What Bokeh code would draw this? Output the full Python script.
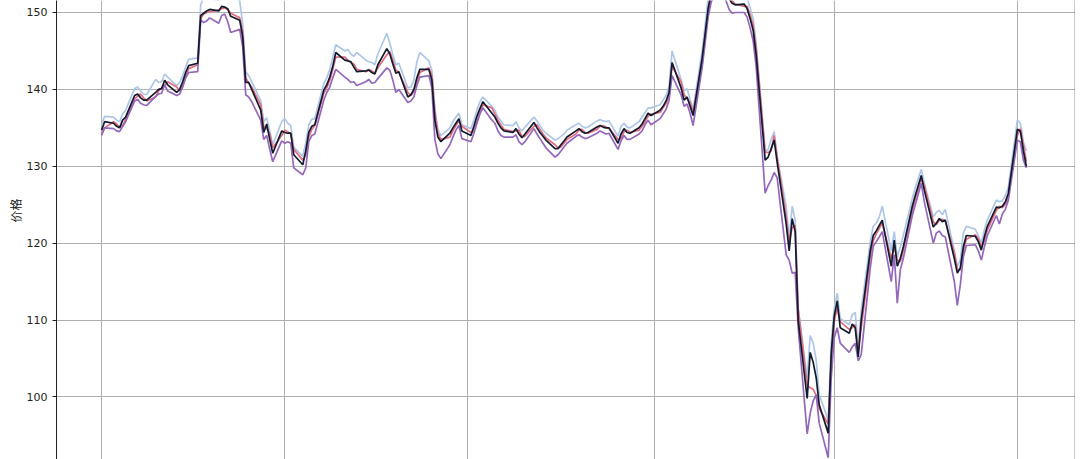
from datetime import datetime
import pandas as pd
from bokeh.plotting import figure
from bokeh.models import (ColumnDataSource, Range1d, FixedTicker, LinearAxis,
                          Grid, Title)
from bokeh.embed import file_html
from bokeh.resources import INLINE

# ---------------- data ----------------
close = [
    134.7, 135.8,
    135.6, 135.2, 135.0, 136.0, 136.4,
    139.2, 139.4, 138.9, 138.6, 138.6,
    139.6, 140.0, 140.1, 141.2, 140.6,
    139.6, 140.0, 141.0, 142.2, 143.1,
    143.4, 149.6, 149.9, 150.2, 150.4,
    150.2, 150.8, 150.7, 150.5, 149.5,
    149.0, 146.8, 140.9, 140.9, 140.0,
    137.3, 134.4, 135.5, 133.5, 131.7,
    134.6, 134.4, 134.3, 134.3, 131.5,
    130.2, 132.0, 134.4, 135.2, 135.4,
    139.9, 140.6, 141.6, 143.0, 144.8,
    143.8, 143.7, 143.6, 142.9, 142.3,
    142.4, 142.5, 142.2, 142.0, 143.2,
    145.3, 144.6, 143.3, 142.1, 142.3,
    139.0, 139.3, 140.0, 141.5, 142.6,
    142.6, 141.2, 136.0, 133.8, 133.2,
    134.3, 135.0, 135.6, 136.2, 134.6,
    134.0, 135.2, 136.5, 137.5, 138.4,
    136.9, 136.4, 135.6, 135.0, 134.6,
    134.4, 134.9, 134.2, 133.7, 134.2,
    135.7, 135.0, 134.4, 133.9, 133.4,
    132.3, 132.3, 132.8, 133.3, 133.8,
    134.6, 134.9, 134.5, 134.3, 134.4,
    135.1, 135.3, 135.1, 135.0, 135.0,
    133.0, 134.2, 134.9, 134.4, 134.3,
    135.0, 135.5, 136.2, 136.9, 136.6,
    137.3, 137.8, 138.5, 139.6, 143.5,
    140.2, 138.6, 139.0, 137.8, 136.6,
    144.0, 147.2, 150.5, 152.5, 153.5,
    153.8, 152.8, 151.8, 151.2, 151.0,
    151.1, 150.5, 149.2, 147.7, 144.5,
    130.8, 131.2, 132.3, 133.4, 130.5,
    122.5, 119.0, 123.2, 121.5, 110.0,
    99.8, 105.8, 104.5, 102.5, 99.0,
    95.3, 105.6, 110.5, 112.5, 109.0,
    108.3, 109.5, 109.0, 105.2, 110.0,
    119.0, 121.0, 121.6, 122.3, 123.0,
    117.0, 120.4, 117.0, 118.0, 119.5,
    124.8, 126.2, 127.5, 128.8, 126.9,
    122.1, 122.6, 123.2, 122.8, 123.0,
    118.0, 116.1, 116.8, 119.5, 121.0,
    120.9, 120.2, 119.1, 120.8, 122.2,
    124.7, 124.6, 124.8, 125.4, 126.5,
    134.8, 134.6, 132.0, 130.0,
]

open_ = [
    134.2, 135.0,
    135.8, 135.5, 135.1, 135.3, 136.1,
    138.8, 139.1, 139.4, 138.9, 138.5,
    139.0, 139.8, 140.2, 140.5, 141.0,
    140.3, 139.8, 140.4, 141.6, 142.7,
    143.2, 149.2, 149.8, 150.0, 150.1,
    150.3, 150.5, 150.6, 150.4, 149.9,
    149.3, 147.5, 141.5, 140.8, 140.3,
    138.0, 135.2, 134.9, 134.2, 132.4,
    134.0, 134.7, 134.5, 134.2, 132.2,
    130.8, 131.5, 133.8, 134.8, 135.3,
    139.5, 140.2, 141.2, 142.6, 144.2,
    144.2, 143.8, 143.5, 143.3, 142.6,
    142.3, 142.6, 142.4, 142.1, 142.8,
    144.5, 144.9, 143.8, 142.5, 142.2,
    139.6, 139.2, 139.7, 141.0, 142.2,
    142.8, 141.8, 137.0, 134.3, 133.5,
    133.8, 134.6, 135.3, 135.9, 135.2,
    134.4, 134.6, 135.8, 137.0, 138.0,
    137.6, 136.8, 136.0, 135.4, 134.8,
    134.5, 134.6, 134.7, 133.9, 133.9,
    135.2, 135.4, 134.8, 134.2, 133.7,
    132.8, 132.4, 132.5, 133.0, 133.5,
    134.2, 134.7, 134.8, 134.4, 134.3,
    134.8, 135.2, 135.3, 135.1, 134.9,
    133.5, 133.6, 134.5, 134.7, 134.4,
    134.7, 135.2, 135.8, 136.5, 136.8,
    137.0, 137.6, 138.2, 139.1, 143.0,
    141.0, 139.3, 138.8, 138.3, 137.0,
    143.2, 146.6, 150.0, 152.0, 153.1,
    153.6, 153.2, 152.2, 151.5, 151.1,
    150.8, 150.8, 149.7, 148.3, 145.4,
    131.8, 131.8, 132.0, 134.0, 131.2,
    123.5, 120.2, 122.0, 122.3, 111.5,
    101.5, 101.2, 101.0, 100.2, 98.5,
    96.5, 104.5, 109.8, 111.6, 109.8,
    108.8, 109.0, 109.4, 106.0, 109.0,
    118.2, 120.3, 121.2, 121.9, 122.6,
    118.0, 119.6, 117.8, 117.6, 119.0,
    124.2, 125.8, 127.0, 128.4, 127.5,
    122.8, 122.4, 123.0, 123.1, 122.9,
    118.8, 116.6, 116.5, 119.0, 120.5,
    121.1, 120.6, 119.5, 120.3, 121.7,
    124.3, 124.8, 124.6, 125.1, 126.0,
    134.0, 134.9, 132.8, 130.6,
]

high = [
    135.4, 136.5,
    136.4, 136.0, 135.8, 136.8, 137.3,
    140.1, 140.3, 139.8, 139.4, 139.3,
    141.3, 140.9, 141.0, 142.0, 141.6,
    140.5, 140.9, 141.8, 142.9, 143.9,
    144.1, 151.0, 152.0, 152.2, 151.8,
    151.6, 152.3, 152.0, 152.5, 152.6,
    151.5, 148.5, 142.3, 141.8, 141.0,
    138.5, 135.8, 136.3, 134.6, 132.8,
    135.8, 136.2, 135.6, 135.3, 132.5,
    131.3, 133.0, 135.4, 136.1, 136.2,
    140.8, 141.5, 142.6, 144.2, 145.8,
    145.0, 145.2, 144.6, 144.3, 144.8,
    143.8, 143.6, 143.5, 143.2, 144.6,
    147.3, 146.0, 144.5, 143.2, 143.4,
    140.2, 140.3, 141.2, 143.6, 144.8,
    143.7, 142.5, 137.5, 134.8, 134.0,
    135.0, 135.8, 136.4, 136.9, 135.4,
    134.9, 136.0, 137.3, 138.4, 139.0,
    137.8, 137.3, 136.4, 135.9, 135.4,
    135.3, 135.8, 135.0, 134.6, 135.1,
    136.4, 135.9, 135.3, 134.7, 134.3,
    133.4, 133.6, 133.9, 134.2, 134.7,
    135.4, 135.6, 135.2, 135.0, 135.1,
    135.9, 136.1, 135.9, 135.8, 135.9,
    133.9, 135.2, 135.6, 135.1, 135.0,
    135.8, 136.4, 137.0, 137.6, 137.6,
    138.0, 138.6, 139.2, 140.4, 145.0,
    141.3, 139.8, 140.1, 138.7, 137.4,
    145.0, 148.3, 151.8, 153.8, 154.8,
    155.0, 154.2, 153.2, 152.6, 152.5,
    152.6, 151.9, 150.6, 149.2, 146.0,
    132.0, 132.2, 133.5, 134.5, 131.3,
    124.8, 120.5, 124.8, 123.0, 111.5,
    102.5, 108.0, 107.0, 104.8, 100.3,
    97.0, 107.0, 111.5, 113.5, 110.2,
    109.4, 110.7, 111.0, 106.5, 111.3,
    120.2, 122.2, 122.6, 123.4, 124.8,
    119.0, 121.5, 118.2, 119.5, 121.0,
    125.8, 127.2, 128.4, 129.6, 127.8,
    123.4, 124.0, 124.3, 123.7, 124.4,
    119.0, 117.0, 117.8, 121.3, 122.2,
    121.8, 121.0, 120.0, 121.7, 123.0,
    125.6, 125.4, 125.5, 126.2, 127.3,
    136.0, 135.6, 133.2, 132.0,
]

low = [
    134.0, 135.0,
    134.9, 134.6, 134.5, 135.2, 135.8,
    138.5, 138.7, 138.2, 138.0, 137.9,
    139.1, 139.4, 139.5, 140.6, 139.8,
    139.2, 139.4, 140.3, 141.5, 142.2,
    142.3, 149.0, 148.7, 148.9, 149.3,
    148.6, 149.6, 149.8, 148.8, 147.4,
    147.8, 145.5, 139.3, 139.0, 138.4,
    136.0, 133.5, 134.0, 132.2, 130.6,
    133.3, 133.0, 133.2, 133.0, 129.8,
    128.9, 129.8, 133.2, 134.0, 134.2,
    138.6, 139.6, 140.3, 141.5, 142.6,
    141.6, 141.3, 140.9, 141.0, 140.5,
    141.0, 141.3, 140.8, 140.9, 141.4,
    142.8, 142.5, 141.2, 139.6, 140.0,
    138.3, 138.5, 139.0, 140.5, 141.6,
    141.8, 140.2, 133.5, 131.6, 131.0,
    132.8, 133.8, 134.7, 135.3, 133.6,
    133.2, 134.3, 135.6, 136.8, 137.6,
    136.0, 135.6, 134.6, 134.0, 133.8,
    133.8, 134.1, 133.2, 132.8, 133.2,
    134.9, 134.2, 133.6, 133.0, 132.4,
    131.2, 131.5, 132.0, 132.5, 133.0,
    133.9, 134.1, 133.8, 133.6, 133.7,
    134.3, 134.6, 134.4, 134.2, 134.3,
    132.2, 133.3, 134.0, 133.5, 133.5,
    134.2, 134.6, 135.4, 136.0, 135.4,
    136.2, 136.8, 137.4, 138.6, 141.8,
    139.3, 137.8, 138.1, 136.9, 135.3,
    142.8, 146.0, 149.4, 151.3, 152.3,
    152.4, 151.5, 150.4, 149.9, 150.0,
    150.0, 149.4, 148.0, 146.3, 143.0,
    126.5, 127.5, 128.2, 129.2, 128.5,
    118.5, 117.8, 116.1, 116.2, 109.0,
    95.2, 97.9, 99.5, 100.3, 96.6,
    92.1, 102.5, 107.7, 109.0, 107.0,
    105.8, 106.5, 107.0, 104.7, 105.5,
    116.8, 119.6, 120.2, 120.8, 121.5,
    115.0, 118.5, 112.2, 116.5, 118.0,
    123.6, 125.0, 126.4, 127.8, 125.4,
    120.0, 121.3, 121.6, 121.0, 120.8,
    115.0, 111.9, 114.6, 118.2, 119.7,
    119.8, 119.0, 117.8, 119.5, 121.0,
    123.6, 122.5, 123.8, 124.4, 125.6,
    133.4, 133.2, 130.8, 129.8,
]

dates = pd.bdate_range("2019-08-01", periods=len(close))
month_ticks = ["2019-08-01", "2019-10-01", "2019-12-01",
               "2020-02-01", "2020-04-01", "2020-06-01"]
y_ticks = [90, 100, 110, 120, 130, 140, 150]
y_label = "价格"

src = ColumnDataSource(dict(date=dates, open=open_, high=high, low=low, close=close))

# ---------------- figure ----------------
x_start = datetime(2019, 7, 16, 23, 30)
x_end = datetime(2020, 6, 20, 8, 40)

p = figure(width=1075, height=459, output_backend="svg", toolbar_location=None,
           x_axis_type="datetime", x_axis_location=None,
           x_range=Range1d(x_start, x_end), y_range=Range1d(91.87, 151.56),
           min_border_left=56, min_border_right=0, min_border_top=0,
           min_border_bottom=0, outline_line_color=None,
           background_fill_color="white", border_fill_color="white")

tick_ms = [pd.Timestamp(t).value / 1e6 for t in month_ticks]
if len(p.xgrid) > 0:
    p.xgrid.ticker = FixedTicker(ticks=tick_ms)
else:
    p.add_layout(Grid(dimension=0, ticker=FixedTicker(ticks=tick_ms)))
for g in p.grid:
    g.grid_line_color = "#b0b0b0"
    g.grid_line_width = 1

ax = p.yaxis[0]
ax.ticker = FixedTicker(ticks=y_ticks)
ax.major_label_text_font = "DejaVu Sans"
ax.major_label_text_font_size = "11px"
ax.major_label_text_color = "#222222"
ax.major_tick_in = 0
ax.major_tick_out = 4
ax.minor_tick_line_color = None
ax.axis_line_color = "#222222"
ax.major_tick_line_color = "#222222"
ax.major_label_standoff = 5
p.ygrid.ticker = FixedTicker(ticks=y_ticks)

# right spine
rax = LinearAxis(major_tick_line_color=None, minor_tick_line_color=None,
                 major_label_text_font_size="0px", axis_line_color="#333333",
                 axis_line_width=1.5, ticker=FixedTicker(ticks=[]))
p.add_layout(rax, "right")

# y label as a vertical title in the left panel, shifted up as in the reference
ytitle = Title(text=y_label, align="left", offset=237,
               text_font="Noto Sans CJK SC", text_font_size="12px",
               text_font_style="normal", text_color="#222222",
               standoff=0)
p.add_layout(ytitle, "left")

# series
p.line("date", "high", source=src, line_color="#aec7e8", line_width=1.7)
p.line("date", "open", source=src, line_color="#e36c7e", line_width=1.7)
p.line("date", "low", source=src, line_color="#9467bd", line_width=1.7)
p.line("date", "close", source=src, line_color="#111a2e", line_width=1.7)

open("out.html", "w").write(file_html(p, INLINE))
